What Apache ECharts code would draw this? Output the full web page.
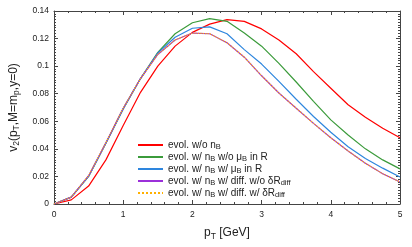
<!DOCTYPE html>
<html><head><meta charset="utf-8">
<script src="https://cdn.jsdelivr.net/npm/echarts@6/dist/echarts.min.js"></script>
<style>html,body{margin:0;padding:0;background:#fff}#c{width:412px;height:247px}</style>
</head><body><div id="c"></div>
<script>
const pT = [0,0.25,0.5,0.75,1.0,1.25,1.5,1.75,2.0,2.25,2.5,2.75,3.0,3.25,3.5,3.75,4.0,4.25,4.5,4.75,5.0];
const v2NoNB      = [0,0.003,0.013,0.032,0.057,0.081,0.100,0.1145,0.1245,0.1305,0.1338,0.1325,0.127,0.119,0.109,0.096,0.084,0.072,0.063,0.055,0.048];
const v2NBnoMu    = [0,0.005,0.020,0.044,0.069,0.091,0.110,0.1235,0.1315,0.1345,0.1325,0.124,0.1145,0.102,0.0885,0.0745,0.061,0.050,0.040,0.032,0.0255];
const v2NBMu      = [0,0.005,0.020,0.044,0.069,0.091,0.1095,0.121,0.1275,0.1285,0.1235,0.112,0.1015,0.089,0.076,0.0635,0.052,0.0415,0.033,0.026,0.0196];
const v2DiffNoDR  = [0,0.005,0.0205,0.0445,0.0695,0.091,0.1085,0.119,0.124,0.1235,0.117,0.1065,0.093,0.0805,0.0695,0.0585,0.048,0.0385,0.0295,0.022,0.016];
const v2DiffDR    = [0,0.005,0.0205,0.0445,0.0695,0.091,0.1085,0.119,0.124,0.1235,0.117,0.1065,0.093,0.0805,0.0695,0.0585,0.048,0.0385,0.0295,0.022,0.016];
const seriesNames = ['s1','s2','s3','s4','s5'];
const legendLabels = {
  s1: 'evol. w/o n{s|B}',
  s2: 'evol. w/ n{s|B} w/o μ{s|B} in R',
  s3: 'evol. w/ n{s|B} w/ μ{s|B} in R',
  s4: 'evol. w/ n{s|B} w/ diff. w/o δR{s|diff}',
  s5: 'evol. w/ n{s|B} w/ diff. w/ δR{s|diff}'
};
const colors = ['#ff0000','#3b9b3b','#2e86de','#9b30d9','#ffb000'];
const allY = [v2NoNB, v2NBnoMu, v2NBMu, v2DiffNoDR, v2DiffDR];

const chart = echarts.init(document.getElementById('c'), null, {renderer:'canvas'});
const axisCol = '#444';
const baseX = {
  type:'value', min:0, max:5, interval:1,
  axisLine:{show:true, onZero:false, lineStyle:{color:axisCol, width:1}},
  axisTick:{show:true, inside:true, length:4, lineStyle:{color:axisCol}},
  minorTick:{show:true, splitNumber:5, length:2, lineStyle:{color:axisCol}},
  splitLine:{show:false}
};
const baseY = {
  type:'value', min:0, max:0.14, interval:0.02,
  axisLine:{show:true, onZero:false, lineStyle:{color:axisCol, width:1}},
  axisTick:{show:true, inside:true, length:4, lineStyle:{color:axisCol}},
  minorTick:{show:true, splitNumber:10, length:2, lineStyle:{color:axisCol}},
  splitLine:{show:false}
};
const option = {
  animation:false,
  backgroundColor:'#fff',
  textStyle:{fontFamily:'Liberation Sans, Arial, sans-serif'},
  grid:{left:54, right:12, top:11, bottom:43, containLabel:false, outerBoundsMode:'none'},
  xAxis:[
    Object.assign({}, baseX, {position:'bottom',
      axisLabel:{fontSize:8.5, color:'#222', margin:6},
      name:'p{s|T} [GeV]', nameLocation:'middle', nameGap:21,
      nameTextStyle:{fontSize:12, color:'#222', lineHeight:16,
        rich:{s:{fontSize:8.5, lineHeight:9, verticalAlign:'bottom'}}}}),
    Object.assign({}, baseX, {position:'top', axisLabel:{show:false}})
  ],
  yAxis:[
    Object.assign({}, baseY, {position:'left',
      axisLabel:{fontSize:8.5, color:'#222', margin:5},
      name:'v{s|2}(p{s|T},M=m{s|p},y=0)', nameLocation:'middle', nameGap:29, nameRotate:90,
      nameTextStyle:{fontSize:12, color:'#222', lineHeight:16,
        rich:{s:{fontSize:8.5, lineHeight:9, verticalAlign:'bottom'}}}}),
    Object.assign({}, baseY, {position:'right', axisLabel:{show:false}})
  ],
  legend:{
    orient:'vertical', left:137, top:139, padding:0, itemWidth:25, itemHeight:12, itemGap:0,
    data:seriesNames,
    itemStyle:{opacity:0},
    formatter: n => legendLabels[n],
    textStyle:{fontSize:10, color:'#222', lineHeight:12,
      rich:{s:{fontSize:7.5, lineHeight:7, verticalAlign:'bottom'}}}
  },
  series: seriesNames.map((n,i)=>({
    name:n, type:'line', symbol:'none', smooth:false,
    xAxisIndex:0, yAxisIndex:0,
    data: pT.map((x,j)=>[x, allY[i][j]]),
    lineStyle:{color:colors[i], width:1.2, type: i===4 ? 'dotted' : 'solid'},
    itemStyle:{color:colors[i]},
    z: i===4 ? 10 : 2+i
  }))
};
chart.setOption(option);
</script>
</body></html>
